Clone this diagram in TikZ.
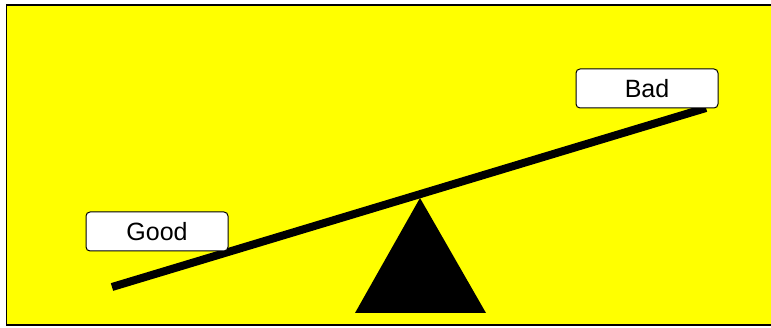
\documentclass[tikz,border=0pt]{standalone}
\usepackage{fontspec}
\setmainfont{Liberation Sans}
\definecolor{bgyellow}{RGB}{255,255,0}
\begin{document}
\begin{tikzpicture}[x=1pt,y=-1pt,
  label box/.style={draw=black, line width=1pt, fill=white, rounded corners=4pt, minimum width=142pt, minimum height=39pt, inner sep=0pt, font=\fontsize{25}{29}\selectfont},
  beam/.style={line width=8pt, black},
  fulcrum/.style={fill=black}]
\useasboundingbox (0,0) rectangle (771,328);
\fill[white] (0,0) rectangle (771,328);
\draw[line width=1.5pt, fill=bgyellow] (6.5,5) rectangle (780,325);
\coordinate (beamL) at (112,287);
\coordinate (beamR) at (706,108);
\draw[beam] (beamL) -- (beamR);
\coordinate (apex) at (420,198);
\coordinate (baseL) at (355,313);
\coordinate (baseR) at (486,313);
\fill[fulcrum] (apex) -- (baseR) -- (baseL) -- cycle;
\node[label box] (good) at (157,231.5) {Good};
\node[label box] (bad) at (647,88.5) {Bad};
\end{tikzpicture}
\end{document}
